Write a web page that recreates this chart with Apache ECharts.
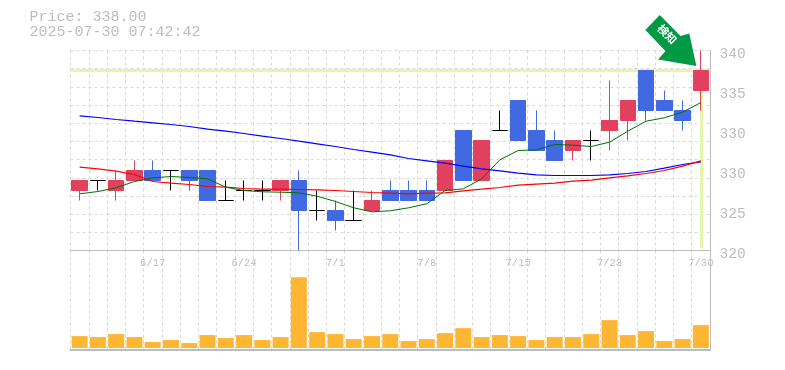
<!DOCTYPE html>
<html><head><meta charset="utf-8">
<style>html,body{margin:0;padding:0;background:#fff}#c{width:785px;height:370px}</style>
<script src="https://cdn.jsdelivr.net/npm/echarts@6/dist/echarts.min.js"></script>
</head><body><div id="c"></div>
<script>
const dates = ['6/11','6/12','6/13','6/16','6/17','6/18','6/19','6/20','6/23','6/24','6/25','6/26','6/27','6/30','7/1','7/2','7/3','7/4','7/7','7/8','7/9','7/10','7/11','7/14','7/15','7/16','7/17','7/18','7/22','7/23','7/24','7/25','7/28','7/29','7/30'];
const shownDates = ['6/17','6/24','7/1','7/8','7/15','7/23','7/30'];
const opens  = [326,327,326,327,328,328,328,328,325,326,326,326,327,324,324,323,324,326,326,326,326,332,327,332,335,332,331,330,331,332,333,338,335,334,336];
const closes = [327,327,327,328,327,328,327,325,325,326,326,327,324,324,323,323,325,325,325,325,329,327,331,332,331,330,329,331,331,333,335,334,334,333,338];
const lows   = [325,326,325,327,327,326,326,325,325,325,325,325,320,323,322,323,324,325,325,325,326,327,327,332,331,330,329,329,329,330,331,333,334,332,334];
const highs  = [327,327,328,329,329,328,328,328,327,327,327,327,328,326,325,326,326,327,327,327,329,332,331,334,335,334,332,331,332,337,335,338,336,335,340];
const maShort = [325.67,325.9,326.27,326.9,327.27,327.4,327.3,327.17,326.33,326,325.87,325.83,325.77,325.43,324.9,324.27,323.87,323.97,324.27,324.67,326,326.17,327.17,329.07,330,330.07,330.6,330.53,330.4,330.83,331.93,332.93,333.27,333.83,334.8];
const maMid = [328.33,328.17,327.93,327.6,326.9,326.73,326.6,326.4,326.33,326.2,326.13,326.13,326.1,326.07,326,325.9,325.8,325.73,325.67,325.73,325.77,325.97,326.13,326.3,326.53,326.63,326.73,326.93,327.03,327.27,327.47,327.7,328,328.43,328.97];
const maLong = [333.47,333.3,333.1,332.93,332.77,332.6,332.4,332.13,331.93,331.7,331.43,331.2,330.93,330.67,330.4,330.1,329.83,329.57,329.2,328.97,328.73,328.43,328.17,327.97,327.73,327.57,327.5,327.5,327.5,327.57,327.7,327.9,328.23,328.6,328.87];
const volumes = [12,11,14,11,6,8,5,13,10,13,8,11,71,16,14,9,12,14,7,9,15,20,11,13,12,8,11,11,14,28,13,17,7,9,23];
const priceTickLabels = ['320','325','330','330','335','340'];
const lastPrice = 338;
const headerText = 'Price: 338.00\n2025-07-30 07:42:42';
const signalText = '検知';

const MONO = '"Liberation Mono","DejaVu Sans Mono",monospace';
const GRAY = '#bdbdbd', GRIDC = '#d8d8d8', EDGE = '#bdbdbd';
const split = {show:true,lineStyle:{color:GRIDC,type:[3,3],width:1}};
const candles = dates.map((_,i)=>[opens[i],closes[i],lows[i],highs[i]]);
const maLine = (data,color,width)=>({type:'line',data,xAxisIndex:0,yAxisIndex:0,showSymbol:false,symbol:'none',silent:true,z:4,lineStyle:{color,width},animation:false});

const chart = echarts.init(document.getElementById('c'),null,{renderer:'canvas'});
chart.setOption({
  animation:false,
  backgroundColor:'#fff',
  title:{text:headerText,left:29.5,top:10,padding:0,textStyle:{fontFamily:MONO,fontSize:15,fontWeight:'normal',color:GRAY,lineHeight:15}},
  grid:[{left:70.5,top:50.5,width:639.5,height:200,containLabel:false},{left:70.5,top:250.5,width:639.5,height:99.5}],
  xAxis:[
    {type:'category',data:dates,gridIndex:0,boundaryGap:true,
     axisLine:{show:true,lineStyle:{color:EDGE,width:1}},axisTick:{show:false},
     axisLabel:{show:true,interval:0,margin:7.5,fontFamily:MONO,fontSize:10.5,color:GRAY,hideOverlap:false,formatter:v=>shownDates.includes(v)?v:''},
     splitLine:Object.assign({interval:0},split)},
    {type:'category',data:dates,gridIndex:1,boundaryGap:true,
     axisLine:{show:true,onZero:false,lineStyle:{color:EDGE,width:2}},axisTick:{show:false},axisLabel:{show:false},
     splitLine:Object.assign({interval:0},split)}
  ],
  yAxis:[
    {type:'value',gridIndex:0,min:320,max:340,interval:4,position:'right',
     axisLine:{show:true,lineStyle:{color:EDGE,width:1}},axisTick:{show:false},splitLine:{show:false},
     axisLabel:{margin:9.5,fontFamily:MONO,fontSize:14.5,color:GRAY,verticalAlign:'top',lineHeight:8,
       formatter:v=>priceTickLabels[(v-320)/4]}},
    {type:'value',gridIndex:0,min:0,max:11,interval:1,position:'left',
     axisLine:{show:false},axisTick:{show:false},axisLabel:{show:false},splitLine:split},
    {type:'value',gridIndex:1,min:-2,max:98,position:'right',
     axisLine:{show:true,lineStyle:{color:EDGE,width:1}},axisTick:{show:false},axisLabel:{show:false},splitLine:{show:false}}
  ],
  series:[
    {type:'line',data:[],xAxisIndex:0,yAxisIndex:0,z:1,silent:true,
     markLine:{silent:true,symbol:'none',label:{show:false},animation:false,z:1,
       lineStyle:{color:'#e5f5aa',width:3,type:'solid'},
       data:[[{xAxis:0,yAxis:lastPrice,x:70.5},{xAxis:34,yAxis:lastPrice,x:710}],
             [{xAxis:34,yAxis:lastPrice},{xAxis:34,yAxis:320.2}]]}},
    maLine(maLong,'#0000ff',1.2),
    maLine(maMid,'#ff0000',1.2),
    maLine(maShort,'#007000',1),
    {type:'candlestick',data:candles,xAxisIndex:0,yAxisIndex:0,barWidth:16,z:3,silent:true,
     itemStyle:{color:'#e2405f',color0:'#4169e1',borderColor:'#e2405f',borderColor0:'#4169e1',borderColorDoji:'#000000',borderWidth:1},
     markPoint:{silent:true,animation:false,z:6,
       data:[{coord:['7/30',lastPrice],
         symbol:'path://M14.3 0L0 15L20 35.7L12.7 44.3L50.7 50.7L43.7 18.3L35 21Z',
         symbolSize:[51,51],symbolKeepAspect:true,symbolOffset:[-30,-30],
         itemStyle:{color:'#009944'},
         label:{show:true,formatter:signalText,position:'inside',offset:[-7,-2],rotate:-45,color:'#fff',fontSize:11,fontWeight:'bold',fontFamily:'"Noto Sans CJK JP"'}}]}},
    {type:'bar',data:volumes,xAxisIndex:1,yAxisIndex:2,barWidth:16,z:3,silent:true,itemStyle:{color:'#ffb733'}}
  ]
});
</script></body></html>
